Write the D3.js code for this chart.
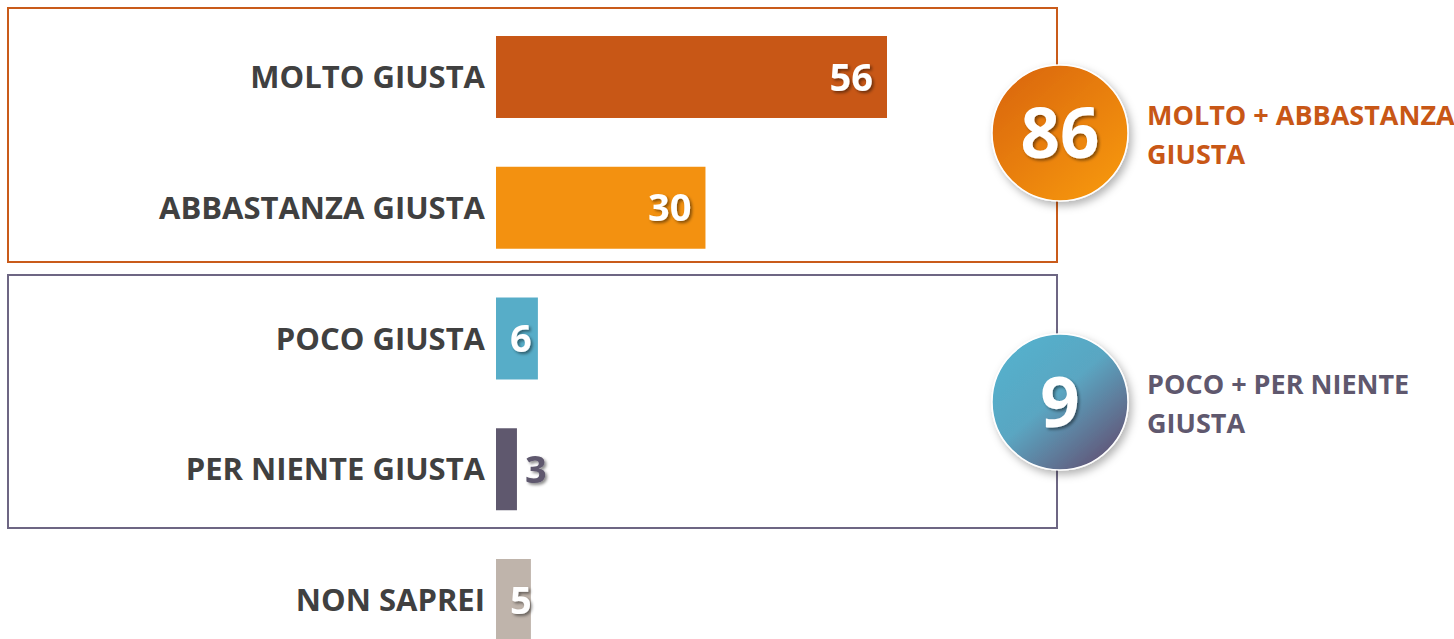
<!DOCTYPE html>
<html>
<head>
<meta charset="utf-8">
<script src="https://cdn.jsdelivr.net/npm/d3@7"></script>
<style>
  html, body { margin: 0; padding: 0; background: #fff; }
  svg { display: block; font-family: "Open Sans", "Noto Sans", sans-serif; }
</style>
</head>
<body>
<div id="chart"></div>
<script>
// dati
const categories = ['MOLTO GIUSTA', 'ABBASTANZA GIUSTA', 'POCO GIUSTA', 'PER NIENTE GIUSTA', 'NON SAPREI'];
const values = [56, 30, 6, 3, 5];
const barColors = ['#c85716', '#f39110', '#57adc8', '#5f586e', '#bfb4ab'];
const totals = [86, 9];
const totalLabels = [['MOLTO + ABBASTANZA', 'GIUSTA'], ['POCO + PER NIENTE', 'GIUSTA']];

const width = 1454, height = 639;
const svg = d3.select('#chart').append('svg')
    .attr('width', width)
    .attr('height', height);

const defs = svg.append('defs');

// ombra per i numeri
const sh = defs.append('filter').attr('id', 'txtShadow')
    .attr('x', '-20%').attr('y', '-20%').attr('width', '150%').attr('height', '150%');
sh.append('feDropShadow').attr('dx', 2).attr('dy', 2).attr('stdDeviation', 1.5)
    .attr('flood-color', '#000').attr('flood-opacity', 0.45);

const csh = defs.append('filter').attr('id', 'circShadow')
    .attr('x', '-30%').attr('y', '-30%').attr('width', '170%').attr('height', '170%');
csh.append('feDropShadow').attr('dx', 3).attr('dy', 4).attr('stdDeviation', 4)
    .attr('flood-color', '#000').attr('flood-opacity', 0.3);

// gradienti dei cerchi
const go = defs.append('linearGradient').attr('id', 'gradOrange')
    .attr('x1', '15%').attr('y1', '10%').attr('x2', '85%').attr('y2', '90%');
go.append('stop').attr('offset', '0%').attr('stop-color', '#dc6a0c');
go.append('stop').attr('offset', '100%').attr('stop-color', '#f5950f');

const gb = defs.append('linearGradient').attr('id', 'gradBlue')
    .attr('x1', '15%').attr('y1', '10%').attr('x2', '85%').attr('y2', '90%');
gb.append('stop').attr('offset', '0%').attr('stop-color', '#55b0cc');
gb.append('stop').attr('offset', '45%').attr('stop-color', '#5aa6c2');
gb.append('stop').attr('offset', '100%').attr('stop-color', '#62587a');

// riquadri di gruppo
const boxes = [
    { y: 8, h: 254, color: '#c95b1a' },
    { y: 275, h: 253, color: '#6d6683' }
];
svg.selectAll('rect.box').data(boxes).enter().append('rect')
    .attr('class', 'box')
    .attr('x', 8).attr('y', d => d.y)
    .attr('width', 1049).attr('height', d => d.h)
    .attr('fill', 'none')
    .attr('stroke', d => d.color)
    .attr('stroke-width', 2);

// scale
const x0 = 496;
const x = d3.scaleLinear().domain([0, 56]).range([x0, 887]);
const y = d3.scaleBand().domain(categories).range([36, 641]).paddingInner(0.373).paddingOuter(0);

// barre
svg.selectAll('rect.bar').data(categories).enter().append('rect')
    .attr('class', 'bar')
    .attr('x', x(0))
    .attr('y', d => y(d))
    .attr('width', (d, i) => x(values[i]) - x(0))
    .attr('height', y.bandwidth())
    .attr('fill', (d, i) => barColors[i]);

// etichette categorie
svg.selectAll('text.cat').data(categories).enter().append('text')
    .attr('class', 'cat')
    .attr('x', 485)
    .attr('y', d => y(d) + y.bandwidth() / 2)
    .attr('dy', '0.36em')
    .attr('text-anchor', 'end')
    .style('font-size', '31px')
    .style('font-weight', 'bold')
    .style('fill', '#404040')
    .text(d => d);

// valori
const wide = v => x(v) - x(0) > 60;
svg.selectAll('text.val').data(categories).enter().append('text')
    .attr('class', 'val')
    .attr('x', (d, i) => {
        const v = values[i];
        if (wide(v)) return x(v) - 14;
        if (v > 4) return x(0) + 14;
        return x(v) + 8;
    })
    .attr('y', d => y(d) + y.bandwidth() / 2)
    .attr('dy', '0.36em')
    .attr('text-anchor', (d, i) => wide(values[i]) ? 'end' : 'start')
    .attr('filter', 'url(#txtShadow)')
    .style('font-size', '38px')
    .style('font-weight', 'bold')
    .style('fill', (d, i) => values[i] > 4 ? '#fff' : barColors[i])
    .text((d, i) => values[i]);

// cerchi dei totali
const circles = [
    { cy: 133, grad: 'url(#gradOrange)', color: '#c85716' },
    { cy: 402, grad: 'url(#gradBlue)', color: '#5f586e' }
];
const cg = svg.selectAll('g.tot').data(circles).enter().append('g')
    .attr('class', 'tot')
    .attr('transform', d => `translate(1060,${d.cy})`);

cg.append('circle')
    .attr('r', 68)
    .attr('fill', d => d.grad)
    .attr('stroke', '#fff')
    .attr('stroke-width', 1.5)
    .attr('filter', 'url(#circShadow)');

cg.append('text')
    .attr('text-anchor', 'middle')
    .attr('dy', '0.36em')
    .attr('filter', 'url(#txtShadow)')
    .style('font-size', '69px')
    .style('font-weight', 'bold')
    .style('fill', '#fff')
    .text((d, i) => totals[i]);

cg.each(function(d, i) {
    const t = d3.select(this).append('text')
        .attr('x', 87)
        .attr('y', -8)
        .style('font-size', '27px')
        .style('font-weight', 'bold')
        .style('fill', d.color);
    totalLabels[i].forEach((line, j) => {
        t.append('tspan').attr('x', 87).attr('dy', j === 0 ? 0 : 39).text(line);
    });
});
</script>
</body>
</html>
